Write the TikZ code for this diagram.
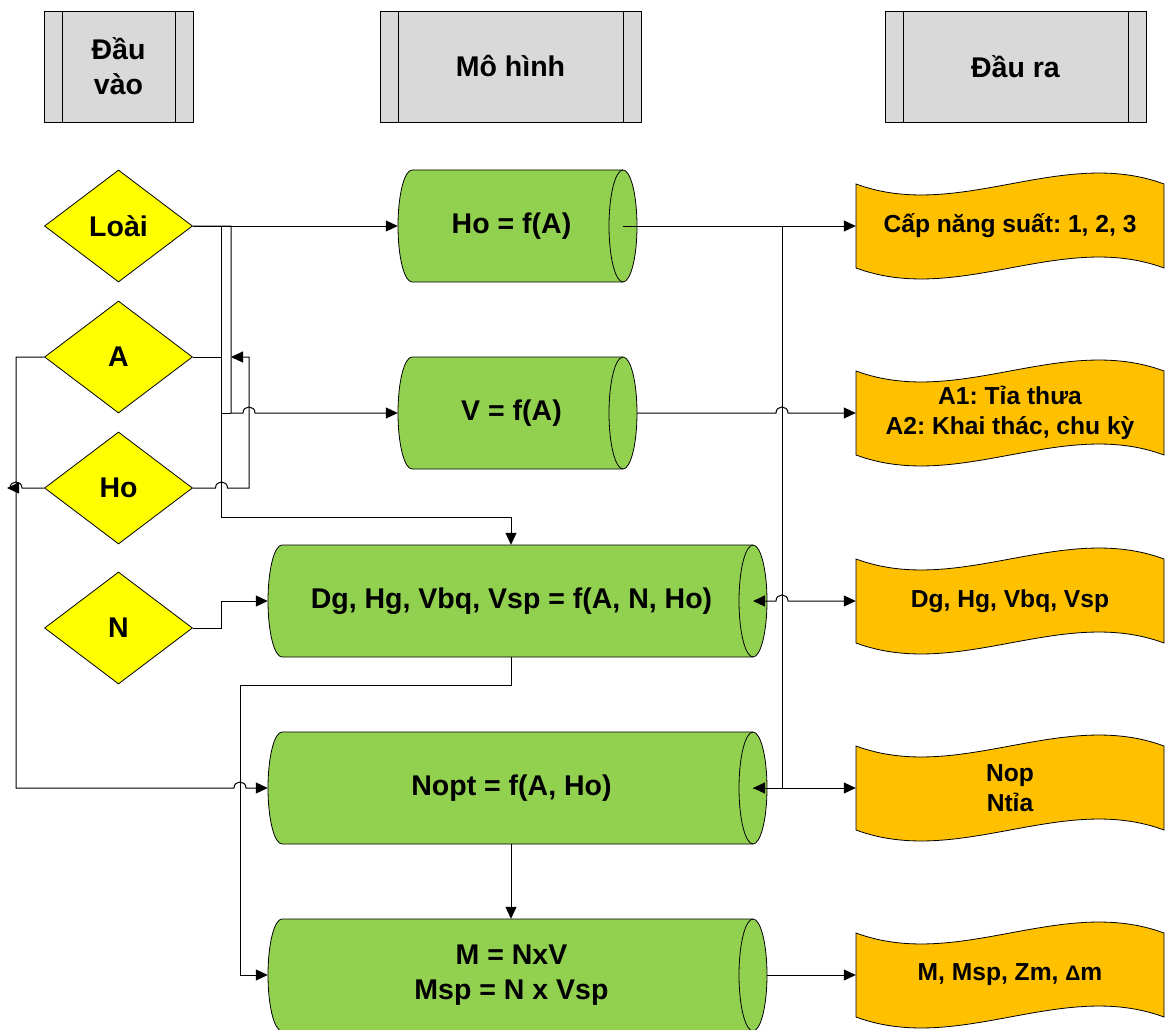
\documentclass[tikz,border=0pt]{standalone}
\usepackage{fontspec}
\setmainfont{Liberation Sans}
\usetikzlibrary{shapes.geometric,arrows.meta}
\definecolor{hdrgray}{HTML}{D9D9D9}
\definecolor{diayel}{HTML}{FFFF00}
\definecolor{cylgreen}{HTML}{92D050}
\definecolor{tapeor}{HTML}{FFC000}
\frenchspacing

% cylinder: name, xLeftCorner, xRightCenter, cy, text
\newcommand\cylnode[5]{%
 \filldraw[fill=cylgreen, shapeline] (#2,{#4-56}) -- (#3,{#4-56})
   .. controls ({#3+7.73},{#4-56}) and ({#3+14},{#4-30.93}) .. ({#3+14},#4)
   .. controls ({#3+14},{#4+30.93}) and ({#3+7.73},{#4+56}) .. (#3,{#4+56})
   -- (#2,{#4+56})
   .. controls ({#2-7.73},{#4+56}) and ({#2-14},{#4+30.93}) .. ({#2-14},#4)
   .. controls ({#2-14},{#4-30.93}) and ({#2-7.73},{#4-56}) .. (#2,{#4-56}) -- cycle;
 \draw[shapeline] (#3,{#4-56}) .. controls ({#3-7.73},{#4-56}) and ({#3-14},{#4-30.93}) .. ({#3-14},#4)
   .. controls ({#3-14},{#4+30.93}) and ({#3-7.73},{#4+56}) .. (#3,{#4+56});
 \node[cyltext, minimum width={#3-#2+16}] (#1) at ({(#2+#3)/2-6},#4) {#5};
 \coordinate (#1-c) at (#3,#4);
 \coordinate (#1-e) at ({#3+14},#4);
}
% tape: name, cy, text
\newcommand\tapenode[3]{%
 \filldraw[fill=tapeor, shapeline] (856,{#2-42}) .. controls (958.7,{#2-4}) and (1061.3,{#2-80}) .. (1164,{#2-42})
   -- (1164,{#2+42}) .. controls (1061.3,{#2+4}) and (958.7,{#2+80}) .. (856,{#2+42}) -- cycle;
 \node[tapetext] (#1) at (1010,#2) {#3};
}

\begin{document}
\begin{tikzpicture}[x=1pt,y=-1pt,
  every node/.style={font=\bfseries\fontsize{28.5}{35}\selectfont, inner sep=0pt},
  shapeline/.style={line width=0.8pt},
  hdr/.style={draw, shapeline, fill=hdrgray, minimum height=111pt, align=center},
  dia/.style={diamond, draw, shapeline, fill=diayel, minimum width=148pt, minimum height=112pt},
  cyltext/.style={minimum height=112pt, align=center},
  tapetext/.style={minimum width=308pt, minimum height=84pt, align=center, font=\bfseries\fontsize{24.6}{30}\selectfont},
  conn/.style={draw, line width=1pt},
  arr/.style={conn, -{Triangle[length=12pt,width=11pt]}},
  dbl/.style={conn, {Triangle[length=12pt,width=11pt]}-{Triangle[length=12pt,width=11pt]}}
]
\useasboundingbox (0,0) rectangle (1165,1030);

% headers
\node[hdr, minimum width=149pt] (h1) at (118.5,66.5) {Đầu\\vào};
\node[hdr, minimum width=261pt] (h2) at (510.5,66.5) {Mô hình};
\node[hdr, minimum width=261pt] (h3) at (1015.5,66.5) {Đầu ra};
\foreach \h in {h1,h2,h3}{
  \draw[shapeline] ([xshift=18.5pt]\h.north west) -- ([xshift=18.5pt]\h.south west);
  \draw[shapeline] ([xshift=-18.5pt]\h.north east) -- ([xshift=-18.5pt]\h.south east);
}

% inputs
\node[dia] (loai) at (118.5,226) {Loài};
\node[dia] (a) at (118.5,357) {A};
\node[dia] (ho) at (118.5,488) {Ho};
\node[dia] (n) at (118.5,628) {N};

% models
\cylnode{hof}{412}{623}{226}{Ho = f(A)}
\cylnode{vf}{412}{623}{413}{V = f(A)}
\cylnode{dg}{282}{753}{601}{Dg, Hg, Vbq, Vsp = f(A, N, Ho)}
\cylnode{nopt}{282}{753}{788}{Nopt = f(A, Ho)}
\cylnode{m}{282}{753}{975}{M = NxV\\Msp = N x Vsp}

% outputs
\tapenode{o1}{226}{Cấp năng suất: 1, 2, 3}
\tapenode{o2}{413}{A1: Tỉa thưa\\A2: Khai thác, chu kỳ}
\tapenode{o3}{601}{Dg, Hg, Vbq, Vsp}
\tapenode{o4}{788}{Nop\\Ntỉa}
\tapenode{o5}{975}{M, Msp, Zm, {\fontsize{21}{21}\selectfont Δ}m}

\coordinate (xm) at (511,0);

% connectors
\draw[arr] (loai.east) -- (hof.west);
\draw[arr] (loai.east) -| (231,413) -- (243,413) .. controls (243,405) and (255,405) .. (255,413) -- (vf.west);
\draw[conn] (a.east) -| (221.5,413) -- (231,413);
\draw[arr] (loai.east) -| (221.5,517) -| (dg.north -| xm);
\draw[arr] (ho.east) -- (215.5,488) .. controls (215.5,480) and (227.5,480) .. (227.5,488) -| (249,357) -- (231,357);
\draw[arr] (ho.west) -- (22,488) .. controls (22,480) and (10,480) .. (10,488) -- (7,488);
\draw[arr] (a.west) -| (16,788) -- (234,788) .. controls (234,780) and (246,780) .. (246,788) -- (nopt.west);
\draw[arr] (n.east) -| (221.5,601) -- (dg.west);
\draw[arr] (dg.south -| xm) |- (240,685) |- (m.west);
\draw[arr] (nopt.south -| xm) -- (m.north -| xm);
\draw[arr] (hof-c) -- (o1.west);
\draw[arr] (hof-c) -| (782,788) -- (nopt-c);
\draw[arr] (nopt-c) -- (o4.west);
\draw[arr] (vf-e) -- (776,413) .. controls (776,405) and (788,405) .. (788,413) -- (o2.west);
\draw[dbl] (dg-c) -- (776,601) .. controls (776,593) and (788,593) .. (788,601) -- (o3.west);
\draw[arr] (m-e) -- (o5.west);
\end{tikzpicture}
\end{document}
